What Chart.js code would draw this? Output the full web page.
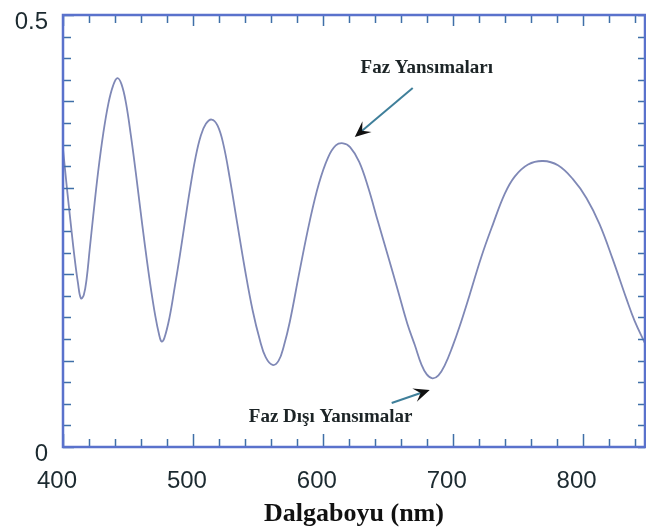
<!DOCTYPE html>
<html><head><meta charset="utf-8">
<script src="https://cdn.jsdelivr.net/npm/chart.js@4/dist/chart.umd.min.js"></script>
<style>html,body{margin:0;padding:0;background:#fff;}#wrap{width:646px;height:532px;}</style>
</head><body><div id="wrap"><canvas id="c" width="646" height="532"></canvas></div>
<script>
// Wavelength (nm) and reflectance
const wavelengths = [400, 403, 406, 409, 411.5, 413.8, 416, 418.2, 420.5, 423.3, 427, 431, 435, 438.5, 441.8, 445, 448.5, 452.3, 456, 459.2, 463, 467, 471, 474, 475.9, 478, 482, 486, 490, 494, 497.7, 502, 506, 510, 514.4, 519, 523.5, 528.5, 534, 540, 546, 551.5, 556, 561.3, 566, 570, 574.6, 582.3, 590, 597, 604, 610, 615.6, 621, 628, 635, 642.6, 650, 658, 665, 670.8, 676, 680, 684.4, 689, 694, 700, 705.4, 713, 722, 731, 740, 747.7, 758, 769.5, 781, 792.5, 803, 813, 823, 833.6, 840, 848];
const reflectance = [0.345, 0.3, 0.258, 0.218, 0.19, 0.172, 0.176, 0.195, 0.228, 0.268, 0.318, 0.363, 0.398, 0.418, 0.427, 0.42, 0.398, 0.36, 0.318, 0.279, 0.234, 0.19, 0.152, 0.13, 0.122, 0.126, 0.15, 0.185, 0.222, 0.262, 0.298, 0.335, 0.36, 0.374, 0.379, 0.372, 0.35, 0.31, 0.26, 0.206, 0.158, 0.124, 0.104, 0.095, 0.1, 0.117, 0.145, 0.205, 0.262, 0.305, 0.335, 0.349, 0.3515, 0.347, 0.33, 0.3, 0.26, 0.222, 0.18, 0.143, 0.118, 0.095, 0.084, 0.0795, 0.083, 0.095, 0.117, 0.14, 0.176, 0.22, 0.258, 0.293, 0.313, 0.327, 0.331, 0.326, 0.31, 0.288, 0.258, 0.218, 0.172, 0.146, 0.12];
const xTickLabels = [400, 500, 600, 700, 800];
const yTickLabels = [0, 0.5];
const xTitle = 'Dalgaboyu (nm)';
const noteTexts = ['Faz Yansımaları', 'Faz Dışı Yansımalar'];
const noteX = [680, 606];
const noteY = [0.4387, 0.0347];
const arrowFromX = [669.2, 653];
const arrowFromY = [0.4155, 0.0509];
const arrowToX = [624.6, 682.3];
const arrowToY = [0.3588, 0.066];

const AXIS_BLUE = '#5a72cc';
const TICK_BLUE = '#3f6fa8';

const framePlugin = {
  id: 'frameTicks',
  afterDatasetsDraw(chart) {
    const {ctx, chartArea: a, scales: {x, y}} = chart;
    ctx.save();
    ctx.strokeStyle = TICK_BLUE;
    ctx.lineWidth = 1.5;
    ctx.beginPath();
    for (let v = 400; v <= x.max + 0.01; v += 20) {
      const px = Math.round(x.getPixelForValue(v)) + 0.5;
      const major = (v % 100 === 0);
      const lenB = major ? 13 : 8;
      const lenT = major ? 11 : 8;
      ctx.moveTo(px, a.bottom); ctx.lineTo(px, a.bottom - lenB);
      ctx.moveTo(px, a.top); ctx.lineTo(px, a.top + lenT);
    }
    for (let i = 0; i <= 20; i++) {
      const v = i * 0.025;
      const py = Math.round(y.getPixelForValue(v)) + 0.5;
      const major = (i % 4 === 0);
      ctx.moveTo(a.left, py); ctx.lineTo(a.left + (major ? 11 : 8), py);
      ctx.moveTo(a.right, py); ctx.lineTo(a.right - 7, py);
    }
    ctx.stroke();
    ctx.strokeStyle = AXIS_BLUE;
    ctx.lineWidth = 2.5;
    ctx.strokeRect(a.left, a.top, a.right - a.left, a.bottom - a.top);
    ctx.fillStyle = '#1c2426';
    ctx.font = 'bold 19px "Liberation Serif", "DejaVu Serif", serif';
    ctx.textAlign = 'center';
    ctx.textBaseline = 'middle';
    for (let i = 0; i < noteTexts.length; i++) {
      ctx.fillText(noteTexts[i], x.getPixelForValue(noteX[i]), y.getPixelForValue(noteY[i]));
    }
    for (let i = 0; i < arrowFromX.length; i++) {
      const x1 = x.getPixelForValue(arrowFromX[i]), y1 = y.getPixelForValue(arrowFromY[i]);
      const x2 = x.getPixelForValue(arrowToX[i]), y2 = y.getPixelForValue(arrowToY[i]);
      const ang = Math.atan2(y2 - y1, x2 - x1);
      ctx.strokeStyle = '#3f7f9a';
      ctx.lineWidth = 2;
      ctx.beginPath();
      ctx.moveTo(x1, y1);
      ctx.lineTo(x2 - 8 * Math.cos(ang), y2 - 8 * Math.sin(ang));
      ctx.stroke();
      const L = 16, W = 7;
      ctx.fillStyle = '#111';
      ctx.beginPath();
      ctx.moveTo(x2, y2);
      ctx.lineTo(x2 - L * Math.cos(ang) + W * Math.sin(ang), y2 - L * Math.sin(ang) - W * Math.cos(ang));
      ctx.lineTo(x2 - 0.6 * L * Math.cos(ang), y2 - 0.6 * L * Math.sin(ang));
      ctx.lineTo(x2 - L * Math.cos(ang) - W * Math.sin(ang), y2 - L * Math.sin(ang) + W * Math.cos(ang));
      ctx.closePath();
      ctx.fill();
    }
    ctx.restore();
  }
};

new Chart(document.getElementById('c'), {
  type: 'line',
  data: {
    datasets: [{
      data: wavelengths.map((w, i) => ({x: w, y: reflectance[i]})),
      borderColor: '#7f88b6',
      borderWidth: 1.8,
      pointRadius: 0,
      fill: false,
      tension: 0.4
    }]
  },
  options: {
    responsive: false,
    devicePixelRatio: 1,
    animation: false,
    layout: {padding: {top: 15, right: 1, left: 0, bottom: 0}},
    plugins: {legend: {display: false}, tooltip: {enabled: false}},
    scales: {
      x: {
        type: 'linear', min: 400, max: 848,
        afterBuildTicks: s => { s.ticks = xTickLabels.map(v => ({value: v})); },
        afterFit: s => { s.height = 85; s.paddingLeft = 0; s.paddingRight = 0; },
        grid: {display: false, drawTicks: false},
        border: {display: false},
        ticks: {
          color: '#1c2a30', padding: 20, labelOffset: -6, maxRotation: 0,
          font: {family: '"Liberation Sans", Arial, sans-serif', size: 24},
          callback: v => String(v)
        },
        title: {
          display: true, text: xTitle, color: '#111',
          font: {family: '"Liberation Serif", "Times New Roman", serif', size: 26, weight: 'bold'},
          padding: {top: 0, bottom: 2}
        }
      },
      y: {
        type: 'linear', min: 0, max: 0.5,
        afterBuildTicks: s => { s.ticks = yTickLabels.map(v => ({value: v})); },
        afterFit: s => { s.width = 63; s.paddingTop = 0; s.paddingBottom = 0; },
        grid: {display: false, drawTicks: false},
        border: {display: false},
        ticks: {
          color: '#1c2a30', padding: 15, labelOffset: 7,
          font: {family: '"Liberation Sans", Arial, sans-serif', size: 24},
          callback: v => String(v)
        }
      }
    }
  },
  plugins: [framePlugin]
});
</script>
</body></html>
